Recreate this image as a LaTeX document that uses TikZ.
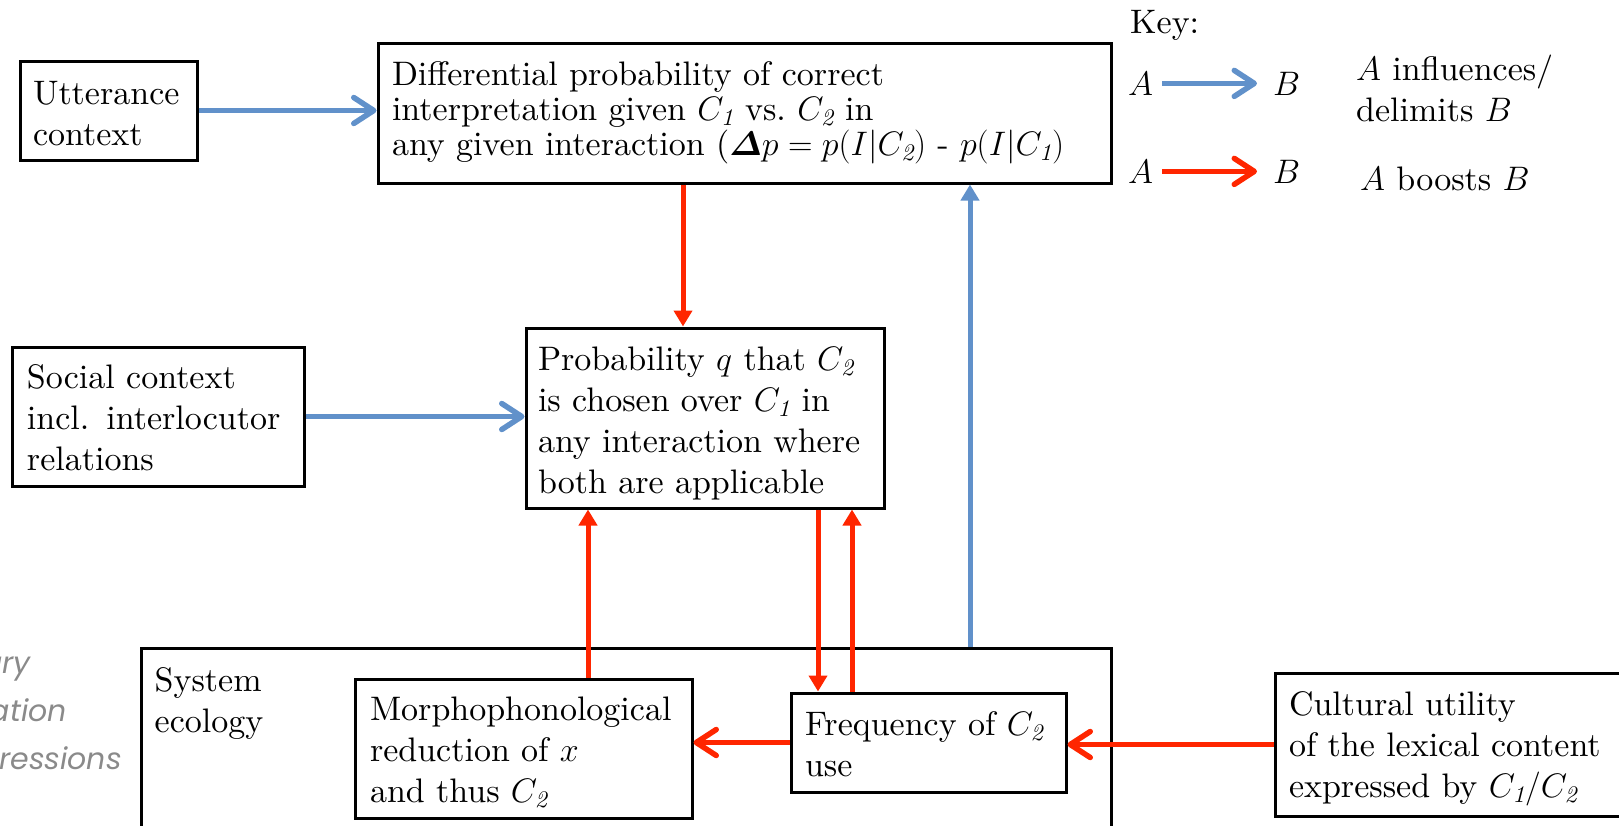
\RequirePackage{fix-cm}
\documentclass[tikz,border=0pt]{standalone}
\usepackage{fontspec}
\setmainfont{lmroman10-regular.otf}[
  ItalicFont=lmroman10-italic.otf,
  BoldFont=lmroman10-bold.otf,
  BoldItalicFont=lmroman10-bolditalic.otf]
\usetikzlibrary{arrows.meta}
\newfontfamily\sidefont{Poppins}
\newcommand\diagfont{\fontsize{34}{41}\selectfont}
\newcommand\isub[1]{_{\mathit{#1}}}
\newcommand\bolddelta{{\boldmath$\mathchar"0101$}}
\definecolor{linkblue}{RGB}{97,145,202}
\definecolor{boostred}{RGB}{255,38,0}
\definecolor{sidegray}{RGB}{138,138,138}
\begin{document}
\begin{tikzpicture}[x=1pt,y=-1pt,
  box/.style={draw, line width=3pt, align=left, font=\diagfont, inner ysep=0pt},
  drop/.style={execute at begin node={\rule{0pt}{#1}}},
  plain/.style={font=\diagfont, inner sep=0pt},
  chev/.style={-{Straight Barb[length=20pt,width=26pt,round]}, line width=5.5pt},
  tri/.style={-{Triangle[length=16pt,width=18pt]}, line width=5pt},
  influence/.style={draw=linkblue},
  boost/.style={draw=boostred, fill=boostred},
]
\useasboundingbox (0,0) rectangle (1619,825);
\clip (0,0) rectangle (1619,825);

% boxes
\node[box, drop=28.5pt, minimum width=177pt, minimum height=99pt, inner xsep=13pt, text width=151pt]
  (utt) at (108.5,110.5) {Utterance\\context};
\node[box, minimum width=733pt, minimum height=140pt, inner xsep=14pt, text width=705pt,
  font={\fontsize{34}{35}\selectfont}]
  (top) at (744.5,113) {Differential probability of correct\\
  interpretation given $C\isub1$ vs.\ $C\isub2$ in\\
  any given interaction (\bolddelta$p = p(I|C\isub2)$ - $p(I|C\isub1)$};
\node[box, drop=26pt, minimum width=292pt, minimum height=139pt, inner xsep=15pt, text width=262pt]
  (soc) at (158,416.5) {Social context\\incl. interlocutor\\relations};
\node[box, drop=34pt, minimum width=358pt, minimum height=180pt, inner xsep=12pt, text width=334pt]
  (mid) at (705,418) {Probability $q$ that $C\isub2$\\is chosen over $C\isub1$ in\\any interaction where\\both are applicable};
\node[box, minimum width=970pt, minimum height=272pt] (eco) at (626,784) {};
\node[plain, anchor=north west, align=left] (ecolabel) at ([shift={(15,21)}]eco.north west) {System\\ecology};
\node[box, drop=32pt, minimum width=337pt, minimum height=139pt, inner xsep=15pt, text width=307pt]
  (morph) at (523.5,748.5) {Morphophonological\\reduction of $x$\\and thus $C\isub2$};
\node[box, drop=28pt, minimum width=275pt, minimum height=99pt, inner xsep=14pt, text width=247pt]
  (freq) at (928.5,742.5) {Frequency of $C\isub2$\\use};
\node[box, drop=32pt, minimum width=355pt, minimum height=143pt, inner xsep=14pt, text width=327pt]
  (cult) at (1452.5,744.5) {Cultural utility\\of the lexical content\\expressed by $C\isub1/C\isub2$};

% side caption
\begin{scope}[every node/.style={anchor=base east, inner sep=0pt, text=sidegray,
    font={\sidefont\itshape\fontsize{30}{40}\selectfont}}]
  \node (side1) at (31,673) {ary};
  \node (side2) at (67,721) {ation};
  \node (side3) at (122,769) {ressions};
\end{scope}

% x positions of the vertical links
\coordinate (xa) at (683,0);
\coordinate (xb) at (970,0);
\coordinate (xc) at (588,0);
\coordinate (xd) at (818,0);
\coordinate (xe) at (852,0);

% influence links
\draw[chev, influence] (utt.east) -- (utt.east -| top.west);
\draw[chev, influence] (soc.east) -- (soc.east -| mid.west);
\draw[tri, influence] (eco.north -| xb) -- (top.south -| xb);

% boost links
\draw[tri, boost] (top.south -| xa) -- (mid.north -| xa);
\draw[tri, boost] (morph.north -| xc) -- (mid.south -| xc);
\draw[tri, boost] (mid.south -| xd) -- (freq.north -| xd);
\draw[tri, boost] (freq.north -| xe) -- (mid.south -| xe);
\draw[chev, draw=boostred] (freq.west) -- (freq.west -| morph.east);
\draw[chev, draw=boostred] (cult.west) -- (cult.west -| freq.east);

% key
\node[plain, anchor=base west] (keyhead) at (1130,33) {Key:};
\node[plain, anchor=base west] (ka1) at (1128,95) {$A$};
\node[plain, anchor=base west] (kb1) at (1273,95) {$B$};
\node[plain, anchor=base west] (ka2) at (1128,183) {$A$};
\node[plain, anchor=base west] (kb2) at (1273,183) {$B$};
\draw[chev, influence, shorten <=9pt, shorten >=16pt] (ka1) -- (kb1);
\draw[chev, draw=boostred, shorten <=9pt, shorten >=16pt] (ka2) -- (kb2);
\node[plain, anchor=north west, align=left] (kt1) at (1356,55) {$A$ influences/\\delimits $B$};
\node[plain, anchor=base west] (kt2) at (1360,190) {$A$ boosts $B$};
\end{tikzpicture}
\end{document}
